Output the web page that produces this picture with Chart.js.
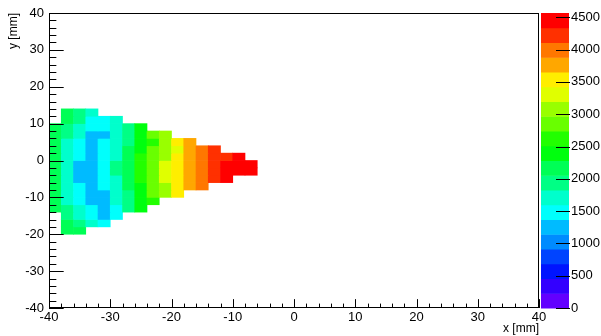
<!DOCTYPE html>
<html>
<head>
<meta charset="utf-8">
<script src="https://cdn.jsdelivr.net/npm/chart.js@4/dist/chart.umd.min.js"></script>
<style>
  html, body { margin: 0; padding: 0; background: #fff; }
  canvas { display: block; }
</style>
</head>
<body>
<canvas id="hist2d" width="601" height="336"></canvas>
<script>
// bin centres (2 mm bins)
const xCenters = [-39, -37, -35, -33, -31, -29, -27, -25, -23, -21, -19, -17, -15, -13, -11, -9, -7];
const yCenters = [13, 11, 9, 7, 5, 3, 1, -1, -3, -5, -7, -9, -11, -13, -15, -17, -19];

// bin contents, one row per y centre (0 = empty bin)
const row13  = [0, 2140, 1910, 1720, 0, 0, 0, 0, 0, 0, 0, 0, 0, 0, 0, 0, 0];
const row11  = [0, 2190, 1960, 1490, 1450, 1690, 0, 0, 0, 0, 0, 0, 0, 0, 0, 0, 0];
const row9   = [2210, 1930, 1740, 1520, 1470, 1730, 1950, 2380, 0, 0, 0, 0, 0, 0, 0, 0, 0];
const row7   = [2170, 1900, 1680, 1290, 1330, 1760, 1990, 2420, 2870, 3090, 0, 0, 0, 0, 0, 0, 0];
const row5   = [2230, 1780, 1540, 1240, 1500, 1710, 1920, 2440, 2660, 3120, 3560, 3760, 0, 0, 0, 0, 0];
const row3   = [2120, 1700, 1470, 1210, 1450, 1780, 2190, 2460, 2830, 3150, 3330, 3800, 4010, 4230, 0, 0, 0];
const row1   = [2180, 1690, 1420, 1190, 1480, 1750, 2210, 2590, 2900, 3060, 3470, 3720, 3950, 4260, 4300, 4400, 0];
const rowM1  = [2200, 1720, 1330, 1180, 1560, 1870, 2240, 2650, 2920, 3260, 3580, 3800, 4030, 4190, 4420, 4510, 4480];
const rowM3  = [2160, 1660, 1280, 1250, 1510, 1890, 2230, 2700, 2880, 3380, 3620, 3830, 4070, 4250, 4470, 4560, 4390];
const rowM5  = [2150, 1750, 1310, 1200, 1440, 1800, 2200, 2600, 2810, 3240, 3500, 3690, 3920, 4150, 4360, 0, 0];
const rowM7  = [2130, 1710, 1420, 1230, 1530, 1660, 2090, 2470, 2790, 3000, 3460, 3700, 3900, 0, 0, 0, 0];
const rowM9  = [2100, 1680, 1450, 1260, 1300, 1700, 1880, 2350, 2760, 3020, 3440, 0, 0, 0, 0, 0, 0];
const rowM11 = [2090, 1640, 1500, 1280, 1220, 1650, 1850, 2300, 2560, 0, 0, 0, 0, 0, 0, 0, 0];
const rowM13 = [2070, 1870, 1640, 1400, 1290, 1560, 1860, 2320, 0, 0, 0, 0, 0, 0, 0, 0, 0];
const rowM15 = [0, 1850, 1620, 1390, 1200, 1420, 0, 0, 0, 0, 0, 0, 0, 0, 0, 0, 0];
const rowM17 = [0, 2080, 1840, 1620, 1380, 0, 0, 0, 0, 0, 0, 0, 0, 0, 0, 0, 0];
const rowM19 = [0, 2090, 2100, 0, 0, 0, 0, 0, 0, 0, 0, 0, 0, 0, 0, 0, 0];
const rows = [row13, row11, row9, row7, row5, row3, row1, rowM1, rowM3, rowM5,
              rowM7, rowM9, rowM11, rowM13, rowM15, rowM17, rowM19];

// axis ticks
const xTicks = [-40, -30, -20, -10, 0, 10, 20, 30, 40];
const yTicks = [-40, -30, -20, -10, 0, 10, 20, 30, 40];
const zTicks = [0, 500, 1000, 1500, 2000, 2500, 3000, 3500, 4000, 4500];
const zMax = 4567;
const nLevels = 20;
const binHalf = 1;

// ROOT "pretty" palette (50 colours violet -> red), 20 contours
function levelColor(k) {
  const idx = Math.floor((k + 0.99) * 50 / nLevels);
  const hue = Math.max(280 - (idx + 1) * 5.6, 0);
  return `hsl(${hue}, 100%, 50%)`;
}
function valueColor(v) {
  const k = Math.min(nLevels - 1, Math.floor(v / (zMax / nLevels)));
  return levelColor(k);
}

const datasets = rows.map((vals, r) => ({
  label: 'y=' + yCenters[r],
  data: xCenters.map((x, i) => ({ x: x, y: [yCenters[r] - binHalf, yCenters[r] + binHalf], v: vals[i] }))
               .filter(p => p.v > 0),
  backgroundColor: ctx => valueColor(ctx.raw.v),
  borderWidth: 0,
  barPercentage: 1,
  categoryPercentage: 1,
  grouped: false
}));

const font = { family: '"Liberation Sans", Arial, sans-serif', size: 13 };
const plain = v => String(v);

// frame, inward ticks and the colour scale
const decorations = {
  id: 'decorations',
  afterDatasetsDraw(chart) {
    const { ctx, chartArea: a, scales } = chart;
    const xs = scales.x, ys = scales.y, zs = scales.z;
    ctx.save();
    ctx.strokeStyle = '#000';
    ctx.lineWidth = 1;

    // x ticks (up from the bottom axis)
    ctx.beginPath();
    for (let v = -40; v <= 40; v += 2) {
      const px = Math.round(xs.getPixelForValue(v)) + 0.5;
      const len = v % 10 === 0 ? 8.85 : 4.4;
      ctx.moveTo(px, a.bottom);
      ctx.lineTo(px, a.bottom - len);
    }
    // y ticks (right from the left axis)
    for (let v = -40; v <= 40; v += 2) {
      const py = Math.round(ys.getPixelForValue(v)) + 0.5;
      const len = v % 10 === 0 ? 14.7 : 7.35;
      ctx.moveTo(a.left, py);
      ctx.lineTo(a.left + len, py);
    }
    ctx.stroke();

    // frame
    ctx.strokeRect(Math.round(a.left) + 0.5, Math.round(a.top) + 0.5,
                   Math.round(a.right - a.left) - 1, Math.round(a.bottom - a.top) - 1);

    // colour bar
    const barL = a.right + 2, barW = 28;
    const step = zMax / nLevels;
    for (let k = 0; k < nLevels; k++) {
      const y0 = zs.getPixelForValue(k * step);
      const y1 = zs.getPixelForValue((k + 1) * step);
      ctx.fillStyle = levelColor(k);
      ctx.fillRect(barL, y1, barW, y0 - y1 + 0.5);
    }
    ctx.beginPath();
    zTicks.forEach(v => {
      const py = Math.round(zs.getPixelForValue(v)) + 0.5;
      ctx.moveTo(barL + barW + 1, py);
      ctx.lineTo(barL + barW - 13, py);
    });
    ctx.stroke();
    ctx.restore();
  }
};

new Chart(document.getElementById('hist2d'), {
  type: 'bar',
  data: { datasets: datasets },
  plugins: [decorations],
  options: {
    responsive: false,
    animation: false,
    events: [],
    layout: { padding: { top: 13, left: 0, right: 0, bottom: 0 } },
    plugins: { legend: { display: false }, tooltip: { enabled: false } },
    scales: {
      x: {
        type: 'linear', min: -40, max: 40, offset: false,
        grid: { display: false, drawTicks: false }, border: { display: false },
        afterBuildTicks: s => { s.ticks = xTicks.map(v => ({ value: v })); },
        afterFit: s => { s.height = 28; s.paddingLeft = 0; s.paddingRight = 0; },
        ticks: { font: font, color: '#000', padding: 2, maxRotation: 0, autoSkip: false, callback: plain },
        title: { display: true, text: 'x [mm]', align: 'end', color: '#000',
                 font: { family: font.family, size: 12 }, padding: { top: 0, bottom: 0 } }
      },
      y: {
        type: 'linear', min: -40, max: 40,
        grid: { display: false, drawTicks: false }, border: { display: false },
        afterBuildTicks: s => { s.ticks = yTicks.map(v => ({ value: v })); },
        afterFit: s => { s.width = 49; s.paddingTop = 0; s.paddingBottom = 0; },
        ticks: { font: font, color: '#000', padding: 5, autoSkip: false, callback: plain },
        title: { display: true, text: 'y [mm]', align: 'end', color: '#000',
                 font: { family: font.family, size: 12 }, padding: { top: 6, bottom: 0 } }
      },
      z: {
        type: 'linear', position: 'right', min: 0, max: zMax, display: true,
        grid: { display: false, drawTicks: false }, border: { display: false },
        afterBuildTicks: s => { s.ticks = zTicks.map(v => ({ value: v })); },
        afterFit: s => { s.width = 62; s.paddingTop = 0; s.paddingBottom = 0; },
        ticks: { font: font, color: '#000', padding: 32, autoSkip: false, callback: plain }
      }
    }
  }
});
</script>
</body>
</html>
